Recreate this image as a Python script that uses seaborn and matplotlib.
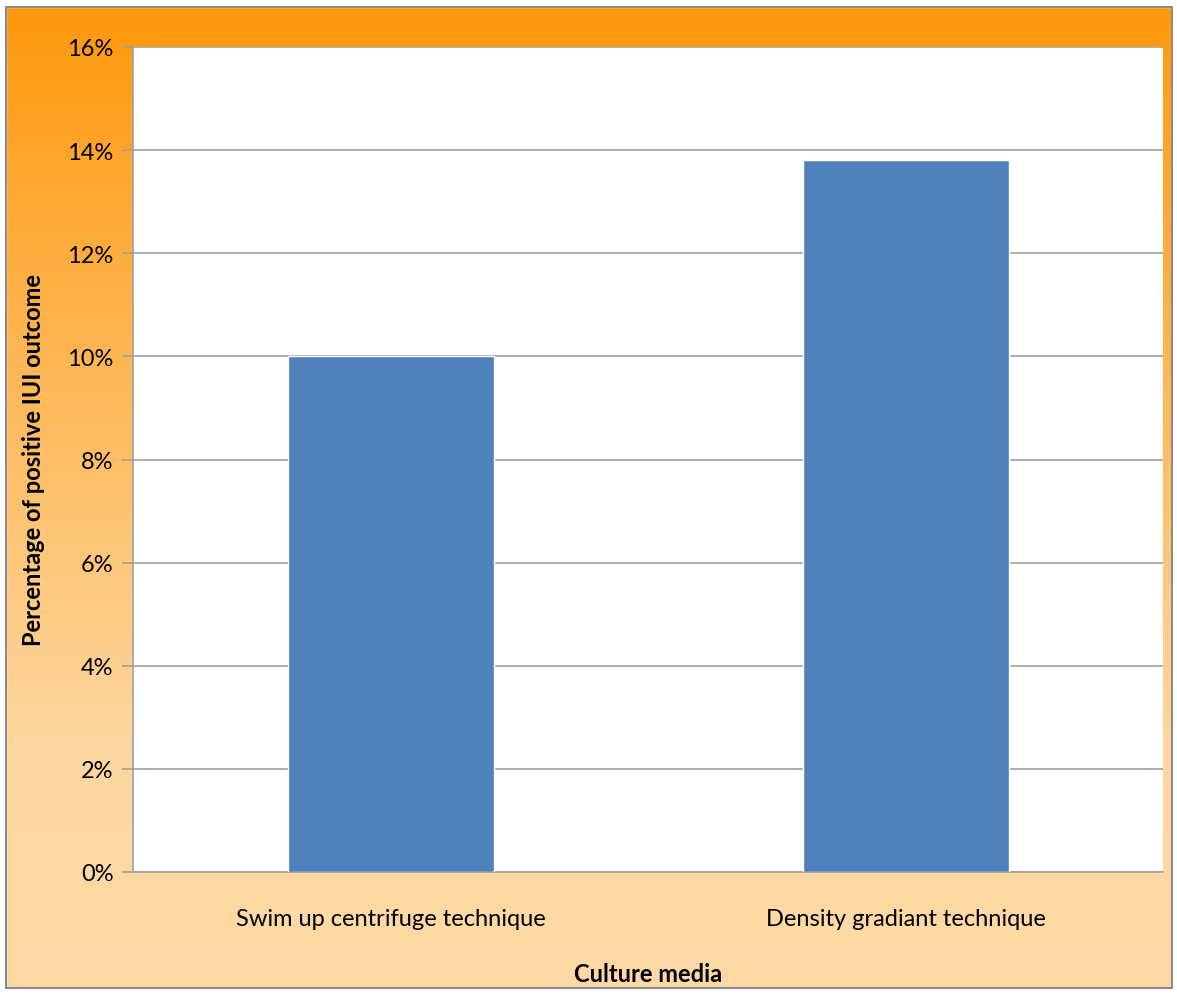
import numpy as np
import pandas as pd
import matplotlib
matplotlib.use("Agg")
import matplotlib.pyplot as plt
from matplotlib.colors import LinearSegmentedColormap
from matplotlib.patches import Rectangle
from matplotlib.ticker import FuncFormatter
import seaborn as sns

# Data
techniques = ["Swim up centrifuge technique", "Density gradiant technique"]
positive_rate = [10.0, 13.8]  # percent
y_ticks = [0, 2, 4, 6, 8, 10, 12, 14, 16]

sns.set_theme(style="white")
plt.rcParams["font.family"] = ["Lato", "DejaVu Sans"]

W, H = 1177, 995
fig = plt.figure(figsize=(W / 100, H / 100), dpi=100)

# Orange-to-peach vertical gradient behind the chart
bg = fig.add_axes([0, 0, 1, 1], zorder=0)
bg.set_axis_off()
grad_cmap = LinearSegmentedColormap.from_list(
    "bg", [(0.0, "#FFDAA6"), (0.25, "#FDD7A0"), (1.0, "#FF980C")]
)
grad = np.linspace(0, 1, 512).reshape(-1, 1)
bg.imshow(grad, cmap=grad_cmap, aspect="auto", extent=[0, 1, 0, 1], origin="lower")
bg.set_xlim(0, 1)
bg.set_ylim(0, 1)
# white margin outside the chart frame
bg.add_patch(Rectangle((0, 0), 1, 6 / H, color="white", transform=bg.transAxes, zorder=2))
bg.add_patch(Rectangle((0, 1 - 8 / H), 1, 8 / H, color="white", transform=bg.transAxes, zorder=2))
bg.add_patch(Rectangle((0, 0), 6 / W, 1, color="white", transform=bg.transAxes, zorder=2))
bg.add_patch(Rectangle((1 - 5 / W, 0), 5 / W, 1, color="white", transform=bg.transAxes, zorder=2))
bg.add_patch(Rectangle((6 / W, 6 / H), 1 - 11 / W, 1 - 14 / H, fill=False,
                       edgecolor="#8C8C8C", linewidth=1.5, transform=bg.transAxes, zorder=3))

ax = fig.add_axes([133 / W, 1 - 873 / H, (1163 - 133) / W, (873 - 48) / H], zorder=1)
ax.set_facecolor("white")

df = pd.DataFrame({"technique": techniques, "rate": positive_rate})
sns.barplot(data=df, x="technique", y="rate", color="#4F81BD", saturation=1,
            width=0.4, ax=ax, zorder=3)

ax.set_ylim(0, 16)
ax.set_xlim(-0.5, 1.5)
ax.set_yticks(y_ticks)
ax.yaxis.set_major_formatter(FuncFormatter(lambda v, _: f"{v:.0f}%"))
ax.grid(axis="y", color="#A0A0A0", linewidth=1.2, zorder=0)
ax.set_axisbelow(True)

for side in ["top", "right"]:
    ax.spines[side].set_visible(False)
for side in ["left", "bottom"]:
    ax.spines[side].set_color("#A0A0A0")
    ax.spines[side].set_linewidth(1.2)

ax.tick_params(axis="y", which="major", left=True, length=8, width=1.2, color="#A0A0A0",
               labelsize=17, pad=6, labelcolor="black")
ax.tick_params(axis="x", bottom=False, labelsize=17, pad=20, labelcolor="black")

ax.set_xlabel("Culture media", fontsize=17, fontweight="bold", color="black", labelpad=24)
ax.set_ylabel("Percentage of positive IUI outcome", fontsize=17, fontweight="bold",
              color="black", labelpad=16)

fig.savefig("out.png", dpi=100)
